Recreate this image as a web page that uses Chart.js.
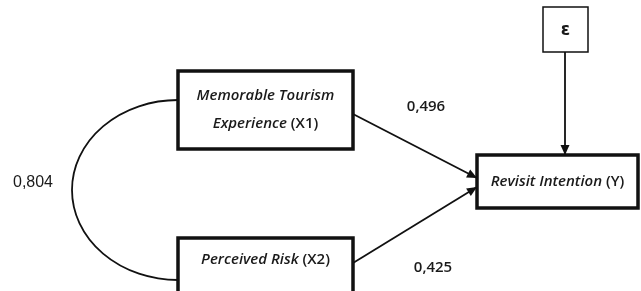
<!DOCTYPE html>
<html>
<head>
<meta charset="utf-8">
<script src="https://cdn.jsdelivr.net/npm/chart.js@4/dist/chart.umd.min.js"></script>
<style>
  html, body { margin: 0; padding: 0; background: #fff; }
  #wrap { width: 641px; height: 291px; position: relative; }
</style>
</head>
<body>
<div id="wrap"><canvas id="pathChart"></canvas></div>
<script>
// Constructs of the model (italic name lines + upright code)
const constructNames = [['Memorable Tourism', 'Experience'], ['Perceived Risk'], ['Revisit Intention']];
const constructCodes = ['(X1)', '(X2)', '(Y)'];
const errorLabel = 'ε';

// Estimated coefficients
const pathCoefficients = [0.496, 0.425];  // X1 -> Y, X2 -> Y
const correlationX1X2 = 0.804;

// Diagram layout in axis units (axes run 0..641 and 0..291, y down)
const boxes = [
    { x0: 178, y0: 71, x1: 353, y1: 149, lw: 3.5 },   // X1
    { x0: 178, y0: 238, x1: 353, y1: 305, lw: 3.5 },  // X2
    { x0: 477, y0: 155, x1: 638, y1: 208, lw: 3.5 },  // Y
    { x0: 543, y0: 7, x1: 588, y1: 52, lw: 1.5 }      // error term
];
const arrows = [
    { from: [353, 114], to: [477, 178] },
    { from: [353, 263], to: [477, 187] },
    { from: [565, 52], to: [565, 155] }
];
const coefLabelPos = [[426, 107], [433, 268]];
const corrLabelPos = [33, 183];
const arc = { cx: 178, cy: 190, rx: 106, ry: 90 };

function fmt(v) {
    return v.toFixed(3).replace('.', ',');
}

function boxPoints(b) {
    return [
        { x: b.x0, y: b.y0 }, { x: b.x1, y: b.y0 },
        { x: b.x1, y: b.y1 }, { x: b.x0, y: b.y1 }, { x: b.x0, y: b.y0 }
    ];
}

const datasets = [];
boxes.forEach(function(b) {
    datasets.push({
        data: boxPoints(b),
        borderColor: '#111',
        borderWidth: b.lw,
        pointRadius: 0,
        showLine: true,
        fill: false,
        tension: 0,
        clip: false,
        borderJoinStyle: 'miter',
        borderCapStyle: 'square'
    });
});
arrows.forEach(function(a) {
    datasets.push({
        data: [{ x: a.from[0], y: a.from[1] }, { x: a.to[0], y: a.to[1] }],
        borderColor: '#111',
        borderWidth: 1.8,
        pointRadius: 0,
        showLine: true,
        fill: false,
        clip: false
    });
});

const diagramPlugin = {
    id: 'diagram',
    afterDatasetsDraw(chart) {
        const ctx = chart.ctx;
        const xs = chart.scales.x, ys = chart.scales.y;
        const px = v => xs.getPixelForValue(v);
        const py = v => ys.getPixelForValue(v);
        ctx.save();

        // arrow heads
        ctx.fillStyle = '#111';
        arrows.forEach(function(a) {
            const x1 = px(a.from[0]), y1 = py(a.from[1]);
            const x2 = px(a.to[0]), y2 = py(a.to[1]);
            const ang = Math.atan2(y2 - y1, x2 - x1);
            const len = 10, half = 4.5;
            ctx.beginPath();
            ctx.moveTo(x2, y2);
            ctx.lineTo(x2 - len * Math.cos(ang) + half * Math.sin(ang), y2 - len * Math.sin(ang) - half * Math.cos(ang));
            ctx.lineTo(x2 - len * Math.cos(ang) - half * Math.sin(ang), y2 - len * Math.sin(ang) + half * Math.cos(ang));
            ctx.closePath();
            ctx.fill();
        });

        // correlation arc between X1 and X2
        ctx.strokeStyle = '#111';
        ctx.lineWidth = 1.8;
        ctx.beginPath();
        ctx.ellipse(px(arc.cx), py(arc.cy), px(arc.cx + arc.rx) - px(arc.cx), py(arc.cy + arc.ry) - py(arc.cy),
            0, Math.PI / 2, Math.PI * 1.5);
        ctx.stroke();

        // construct labels
        ctx.fillStyle = '#1a1a1a';
        ctx.textBaseline = 'middle';
        const italic = 'italic 600 15px "Open Sans"';
        const upright = '600 15px "Open Sans"';
        constructNames.forEach(function(lines, i) {
            const b = boxes[i];
            const cx = px((b.x0 + b.x1) / 2);
            const mid = i === 1 ? py(260) : py((b.y0 + b.y1) / 2);
            const lineH = 28;
            const startY = mid - (lines.length - 1) * lineH / 2;
            lines.forEach(function(line, j) {
                const y = startY + j * lineH;
                const last = j === lines.length - 1;
                ctx.font = italic;
                const w1 = ctx.measureText(line + (last ? ' ' : '')).width;
                ctx.font = upright;
                const w2 = last ? ctx.measureText(constructCodes[i]).width : 0;
                const x = cx - (w1 + w2) / 2;
                ctx.textAlign = 'left';
                ctx.font = italic;
                ctx.fillText(line + (last ? ' ' : ''), x, y);
                if (last) {
                    ctx.font = upright;
                    ctx.fillText(constructCodes[i], x + w1, y);
                }
            });
        });

        // error term
        ctx.textAlign = 'center';
        ctx.font = '600 17px "DejaVu Sans"';
        const e = boxes[3];
        ctx.fillText(errorLabel, px((e.x0 + e.x1) / 2), py((e.y0 + e.y1) / 2) + 1);

        // coefficients
        ctx.font = '600 15px "Open Sans"';
        pathCoefficients.forEach(function(v, i) {
            ctx.fillText(fmt(v), px(coefLabelPos[i][0]), py(coefLabelPos[i][1]));
        });
        ctx.font = '16px "Liberation Sans"';
        ctx.fillText(fmt(correlationX1X2), px(corrLabelPos[0]), py(corrLabelPos[1]));

        ctx.restore();
    }
};

new Chart(document.getElementById('pathChart').getContext('2d'), {
    type: 'scatter',
    data: { datasets: datasets },
    options: {
        responsive: true,
        maintainAspectRatio: false,
        animation: false,
        layout: { padding: 0 },
        plugins: { legend: { display: false }, tooltip: { enabled: false } },
        scales: {
            x: { type: 'linear', min: 0, max: 641, display: false },
            y: { type: 'linear', min: 0, max: 291, reverse: true, display: false }
        }
    },
    plugins: [diagramPlugin]
});
</script>
</body>
</html>
